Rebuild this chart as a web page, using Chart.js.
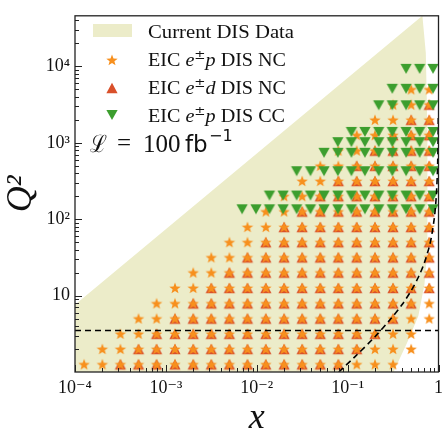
<!DOCTYPE html>
<html><head><meta charset="utf-8">
<script src="https://cdn.jsdelivr.net/npm/chart.js@4.4.0/dist/chart.umd.min.js"></script>
<style>html,body{margin:0;padding:0;background:#fff;}</style>
</head><body>
<canvas id="c" width="448" height="430"></canvas>
<script>
// ---------------- data ----------------
const X_MIN = 1e-4, X_MAX = 1, Y_MIN = 1, Y_MAX = 4.6e4;
const xTicks = [1e-4, 1e-3, 1e-2, 1e-1, 1];
const yTicks = [10, 100, 1000, 10000];

// NC bin centres
const xNC = [1.26e-4, 2.0e-4, 3.16e-4, 5.0e-4, 7.9e-4, 1.26e-3, 2.0e-3, 3.16e-3, 5.0e-3, 7.9e-3,
             0.0126, 0.020, 0.0316, 0.050, 0.079, 0.126, 0.20, 0.316, 0.50, 0.79];
const q2NC = [1.26, 2.0, 3.16, 5.0, 7.9, 12.6, 20, 31.6, 50, 79, 126, 200, 316, 500, 790, 1260, 2000, 3160, 5000];
// EIC e±p NC: first / last occupied x-bin in each Q² row
const epFirst = [0, 1, 2, 3, 4, 5, 6, 7, 8, 9, 10, 11, 12, 13, 14, 15, 16, 17, 18];
const epLast  = [17, 18, 18, 19, 19, 19, 19, 19, 19, 19, 19, 19, 19, 19, 19, 19, 19, 19, 19];
// EIC e±d NC
const edFirst = [2, 3, 4, 5, 6, 7, 8, 9, 10, 11, 12, 13, 14, 15, 16, 17, 18, 19];
const edLast  = [14, 15, 16, 17, 18, 19, 19, 19, 19, 19, 19, 19, 19, 19, 19, 19, 19, 19];
// EIC e±p CC bins
const xCC = [0.87, 0.62, 0.44, 0.31, 0.22, 0.155, 0.11, 0.078, 0.055, 0.039, 0.0275, 0.0195, 0.0138, 0.0098, 0.0069];
const q2CC = [135, 204, 425, 740, 1020, 1390, 3100, 5100, 9300];
const ccLast = [14, 12, 10, 8, 7, 6, 4, 3, 2];

// current DIS data region outline
const disX  = [1e-4, 1e-4, 0.665, 0.725, 0.755, 0.755, 0.70, 0.60, 0.45, 0.32];
const disQ2 = [1, 7.6, 4.6e4, 1.5e4, 1500, 40, 14, 5.4, 2.4, 1];
// Q² cut and W² cut (dashed)
const q2Cut = 3.5;
const wCutX  = [0.08, 0.12, 0.2, 0.3, 0.4, 0.5, 0.6, 0.7, 0.8, 0.85, 0.9, 0.93, 0.95, 0.97, 0.98, 0.99, 0.995];
const wCutQ2 = [1.0, 1.58, 2.9, 5.0, 7.7, 11.6, 17.4, 27, 46, 66, 104, 154, 220, 375, 570, 1150, 2300];

// ---------------- styling ----------------
const DIS_COLOR = '#ececc9';
const STAR_COLOR = '#f7901e';
const RED_COLOR = '#d9502a';
const GREEN_COLOR = '#3c9e2e';

function makeStar(color, R) {
  const s = Math.ceil(R * 2 + 4);
  const c = document.createElement('canvas');
  c.width = s; c.height = s;
  const g = c.getContext('2d');
  g.translate(s / 2, s / 2 + 0.5);
  g.beginPath();
  for (let i = 0; i < 10; i++) {
    const r = i % 2 ? R * 0.42 : R;
    const a = -Math.PI / 2 + i * Math.PI / 5;
    g.lineTo(r * Math.cos(a), r * Math.sin(a));
  }
  g.closePath();
  g.fillStyle = color; g.fill();
  return c;
}
// triangle centred on its bounding box (matplotlib-like marker)
function makeTri(color, hw, hh, down) {
  const s = Math.ceil(Math.max(hw, hh) * 2 + 4);
  const c = document.createElement('canvas');
  c.width = s; c.height = s;
  const g = c.getContext('2d');
  g.translate(s / 2, s / 2);
  g.beginPath();
  if (!down) { g.moveTo(0, -hh); g.lineTo(hw, hh); g.lineTo(-hw, hh); }
  else { g.moveTo(-hw, -hh); g.lineTo(hw, -hh); g.lineTo(0, hh); }
  g.closePath();
  g.fillStyle = color; g.fill();
  return c;
}
const starImg = makeStar(STAR_COLOR, 6);
const upImg = makeTri(RED_COLOR, 5.6, 5.2, false);
const downImg = makeTri(GREEN_COLOR, 5.6, 5.0, true);

const epPts = [], edPts = [], ccPts = [];
q2NC.forEach((q, j) => { for (let k = epFirst[j]; k <= epLast[j]; k++) epPts.push({x: xNC[k], y: q}); });
edFirst.forEach((f, j) => { for (let k = f; k <= edLast[j]; k++) edPts.push({x: xNC[k], y: q2NC[j]}); });
q2CC.forEach((q, r) => { for (let m = 0; m <= ccLast[r]; m++) ccPts.push({x: xCC[m], y: q}); });
const disPts = disX.map((x, i) => ({x, y: disQ2[i]}));
const wPts = wCutX.map((x, i) => ({x, y: wCutQ2[i]}));

const supMap = {'-':'⁻','0':'⁰','1':'¹','2':'²','3':'³','4':'⁴'};
function powLabel(v) {
  const e = Math.round(Math.log10(v));
  if (e === 0) return '1';
  if (e === 1) return '10';
  return '10' + String(e).split('').map(ch => supMap[ch]).join('');
}

// ---------------- plugins ----------------
const frame = {
  id: 'frame',
  afterDraw(chart) {
    const {ctx, chartArea: a, scales: {x, y}} = chart;
    ctx.save();
    ctx.strokeStyle = '#222';
    ctx.lineWidth = 1;
    ctx.beginPath();
    for (let e = -4; e <= 0; e++) for (let m = 1; m <= 9; m++) {
      const v = m * Math.pow(10, e);
      if (v < X_MIN || v > X_MAX) continue;
      const px = Math.round(x.getPixelForValue(v)) + 0.5;
      const len = m === 1 ? 7 : 4;
      ctx.moveTo(px, a.bottom); ctx.lineTo(px, a.bottom - len);
    }
    for (let e = 0; e <= 4; e++) for (let m = 1; m <= 9; m++) {
      const v = m * Math.pow(10, e);
      if (v <= Y_MIN || v > Y_MAX) continue;
      const py = Math.round(y.getPixelForValue(v)) + 0.5;
      const len = m === 1 ? 7 : 4;
      ctx.moveTo(a.left, py); ctx.lineTo(a.left + len, py);
    }
    ctx.stroke();
    ctx.lineWidth = 1.3;
    ctx.strokeRect(a.left, a.top, a.right - a.left, a.bottom - a.top);
    ctx.restore();
  }
};

function richText(ctx, pieces, x, baseline, targetW) {
  let w = 0;
  pieces.forEach(p => { ctx.font = p.font; p.w = ctx.measureText(p.t).width; w += p.w; });
  const sx = targetW ? targetW / w : 1;
  ctx.save();
  ctx.translate(x, baseline);
  ctx.scale(sx, 1);
  let cx = 0;
  pieces.forEach(p => { ctx.font = p.font; ctx.fillText(p.t, cx, p.dy || 0); cx += p.w; });
  ctx.restore();
}

const legendPlugin = {
  id: 'legendText',
  afterDraw(chart) {
    const ctx = chart.ctx;
    ctx.save();
    ctx.fillStyle = DIS_COLOR;
    ctx.fillRect(93, 24, 39, 13);
    ctx.drawImage(starImg, 112 - starImg.width / 2, 60 - starImg.height / 2);
    ctx.drawImage(upImg, 112 - upImg.width / 2, 88 - upImg.height / 2);
    ctx.drawImage(downImg, 112 - downImg.width / 2, 115 - downImg.height / 2);

    ctx.fillStyle = '#111';
    ctx.textBaseline = 'alphabetic';
    ctx.textAlign = 'left';
    const R = '18px "Liberation Serif", serif';
    const I = 'italic 18px "Liberation Serif", serif';
    const S = '12px "DejaVu Serif", serif';
    richText(ctx, [{t: 'Current DIS Data', font: R}], 148, 38, 146);
    richText(ctx, [{t: 'EIC ', font: R}, {t: 'e', font: I}, {t: '±', font: S, dy: -7}, {t: 'p', font: I}, {t: ' DIS NC', font: R}], 148, 66, 138);
    richText(ctx, [{t: 'EIC ', font: R}, {t: 'e', font: I}, {t: '±', font: S, dy: -7}, {t: 'd', font: I}, {t: ' DIS NC', font: R}], 148, 94, 138);
    richText(ctx, [{t: 'EIC ', font: R}, {t: 'e', font: I}, {t: '±', font: S, dy: -7}, {t: 'p', font: I}, {t: ' DIS CC', font: R}], 148, 122, 137);

    // luminosity label
    richText(ctx, [{t: 'ℒ', font: '24px "DejaVu Serif", serif'}], 90, 152, 17);
    ctx.font = '25px "Liberation Serif", serif';
    ctx.fillText('=', 117, 151);
    ctx.fillText('100', 143, 152);
    ctx.font = '23px "DejaVu Sans", sans-serif';
    ctx.fillText('fb', 185, 152);
    ctx.font = '16px "DejaVu Sans", sans-serif';
    ctx.fillText('−1', 209, 141);
    ctx.restore();
  }
};

// ---------------- chart ----------------
new Chart(document.getElementById('c'), {
  type: 'scatter',
  data: {
    datasets: [
      {label: 'Current DIS Data', data: disPts, showLine: true, fill: 'shape', backgroundColor: DIS_COLOR,
       borderWidth: 0, borderColor: 'rgba(0,0,0,0)', pointRadius: 0, order: 10},
      {label: 'EIC e±d DIS NC', data: edPts, pointStyle: upImg, pointRadius: 6, backgroundColor: RED_COLOR,
       borderWidth: 0, order: 3},
      {label: 'EIC e±p DIS NC', data: epPts, pointStyle: starImg, pointRadius: 6, backgroundColor: STAR_COLOR,
       borderWidth: 0, order: 2},
      {label: 'EIC e±p DIS CC', data: ccPts, pointStyle: downImg, pointRadius: 6,
       backgroundColor: GREEN_COLOR, borderWidth: 0, order: 1},
      {label: 'Q2 cut', data: [{x: X_MIN, y: q2Cut}, {x: X_MAX, y: q2Cut}], showLine: true, borderColor: '#000',
       borderWidth: 1.6, borderDash: [6, 4], pointRadius: 0, fill: false, order: 0},
      {label: 'W2 cut', data: wPts, showLine: true, borderColor: '#000', borderWidth: 1.6, borderDash: [6, 4],
       pointRadius: 0, fill: false, tension: 0.3, order: 0}
    ]
  },
  options: {
    responsive: false,
    animation: false,
    events: [],
    layout: {padding: {top: 6, right: 5, left: 0, bottom: 0}},
    plugins: {legend: {display: false}, tooltip: {enabled: false}},
    scales: {
      x: {
        type: 'logarithmic', min: X_MIN, max: X_MAX, position: 'bottom',
        grid: {display: false, drawTicks: false}, border: {display: false},
        afterBuildTicks: s => { s.ticks = xTicks.map(v => ({value: v})); },
        afterFit: s => { s.height = 58; },
        ticks: {autoSkip: false, maxRotation: 0, padding: 5, color: '#111',
                font: {family: '"Liberation Serif", "DejaVu Serif", serif', size: 18},
                callback: v => powLabel(v)},
        title: {display: true, text: 'x', color: '#111', padding: {top: 0, bottom: 1},
                font: {family: '"Liberation Serif", serif', style: 'italic', size: 36, lineHeight: 0.6}}
      },
      y: {
        type: 'logarithmic', min: Y_MIN, max: Y_MAX, position: 'left',
        grid: {display: false, drawTicks: false}, border: {display: false},
        afterBuildTicks: s => { s.ticks = yTicks.map(v => ({value: v})); },
        afterFit: s => { s.width = 75; },
        ticks: {autoSkip: false, padding: 5, color: '#111',
                font: {family: '"Liberation Serif", "DejaVu Serif", serif', size: 18},
                callback: v => powLabel(v)},
        title: {display: true, text: 'Q²', color: '#111', padding: {top: 11, bottom: 0},
                font: {family: '"Liberation Serif", serif', style: 'italic', size: 36, lineHeight: 0.6}}
      }
    }
  },
  plugins: [frame, legendPlugin]
});
</script>
</body></html>
